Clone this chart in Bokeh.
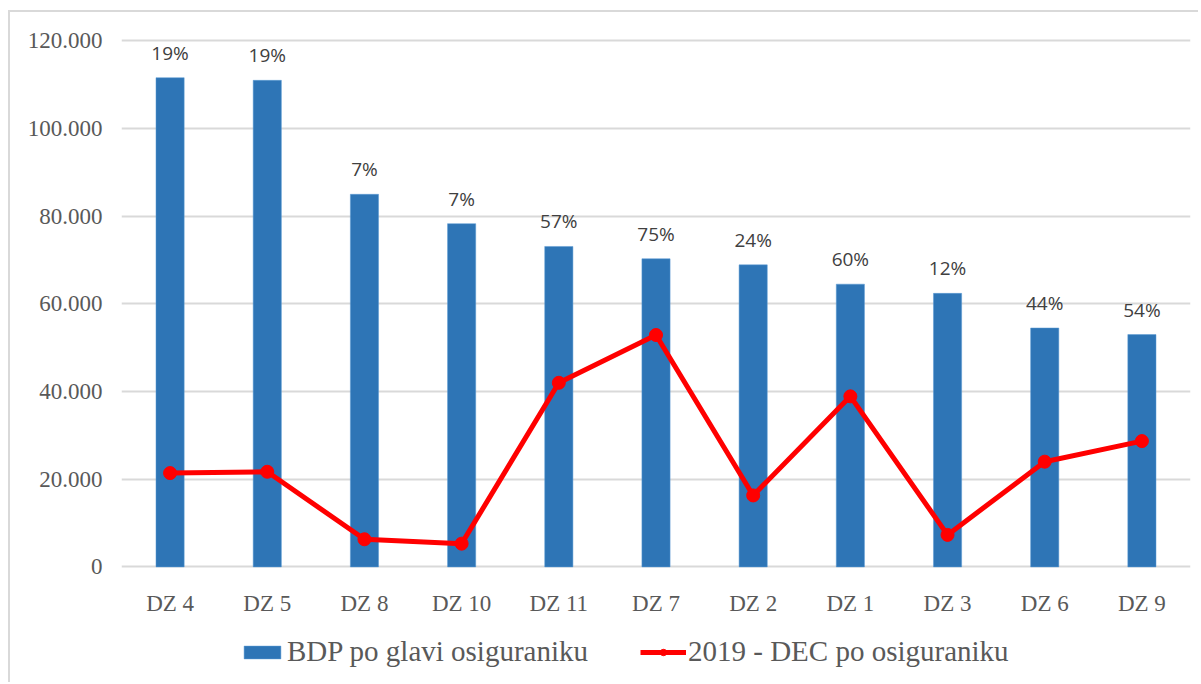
from bokeh.plotting import figure
from bokeh.models import (ColumnDataSource, FactorRange, Range1d, FixedTicker,
                          Legend, LegendItem)
from bokeh.core.properties import value
from bokeh.embed import file_html
from bokeh.resources import INLINE

categories = ["DZ 4", "DZ 5", "DZ 8", "DZ 10", "DZ 11", "DZ 7", "DZ 2", "DZ 1", "DZ 3", "DZ 6", "DZ 9"]
bdp = [111600, 111000, 85000, 78300, 73100, 70300, 68900, 64500, 62400, 54500, 53000]
dec = [21400, 21700, 6300, 5300, 42000, 52900, 16300, 38900, 7300, 24000, 28700]
pct_labels = ["19%", "19%", "7%", "7%", "57%", "75%", "24%", "60%", "12%", "44%", "54%"]
y_ticks = [0, 20000, 40000, 60000, 80000, 100000, 120000]
y_tick_labels = ["0", "20.000", "40.000", "60.000", "80.000", "100.000", "120.000"]
bar_name = "BDP po glavi osiguraniku"
line_name = "2019 - DEC po osiguraniku"

src = ColumnDataSource(dict(cat=categories, bdp=bdp, dec=dec, pct=pct_labels))

p = figure(width=1190, height=672, output_backend="svg", toolbar_location=None,
           x_range=FactorRange(*categories, range_padding=0),
           y_range=Range1d(-26376, 121000),
           min_border_left=111, min_border_right=10, min_border_top=24, min_border_bottom=2)
p.outline_line_color = None
p.background_fill_color = "white"
p.border_fill_color = "white"
p.styles = {"border-left": "2px solid #d9d9d9", "border-top": "2px solid #d9d9d9",
            "margin-left": "8px", "margin-top": "10px"}

serif = "Liberation Serif"

p.xgrid.grid_line_color = None
p.ygrid.grid_line_color = "#d9d9d9"
p.ygrid.grid_line_width = 1.8
p.yaxis.ticker = FixedTicker(ticks=y_ticks)
p.yaxis.major_label_overrides = {t: l for t, l in zip(y_ticks, y_tick_labels)}
p.xaxis.fixed_location = 0

for ax in (p.xaxis[0], p.yaxis[0]):
    ax.axis_line_color = None
    ax.major_tick_line_color = None
    ax.minor_tick_line_color = None
    ax.major_label_text_font = serif
    ax.major_label_text_color = "#595959"
p.yaxis.major_label_text_font_size = "23px"
p.yaxis.major_label_standoff = 13
p.xaxis.major_label_text_font_size = "23px"
p.xaxis.major_label_standoff = 18

bars = p.vbar(x="cat", top="bdp", width=0.29, source=src, fill_color="#2E75B6",
              line_color="#5b9bd5", line_width=0.5)
line = p.line(x="cat", y="dec", source=src, line_color="#FF0000", line_width=5)
pts = p.scatter(x="cat", y="dec", source=src, size=13, fill_color="#FF0000", line_color="#FF0000")

p.text(x="cat", y="bdp", text="pct", source=src, text_font=value("Open Sans"),
       text_font_size="19px", text_color="#404040", text_align="center",
       text_baseline="bottom", y_offset=-12)

legend = Legend(items=[LegendItem(label=bar_name, renderers=[bars]),
                       LegendItem(label=line_name, renderers=[line, pts])],
                orientation="horizontal", location=(118, 14),
                label_text_font=serif, label_text_font_size="29px",
                label_text_color="#595959", glyph_width=46, glyph_height=16,
                label_standoff=2, spacing=52, padding=0, margin=0,
                border_line_color=None, background_fill_alpha=0)
p.add_layout(legend, "center")

open("out.html", "w").write(file_html(p, INLINE))
